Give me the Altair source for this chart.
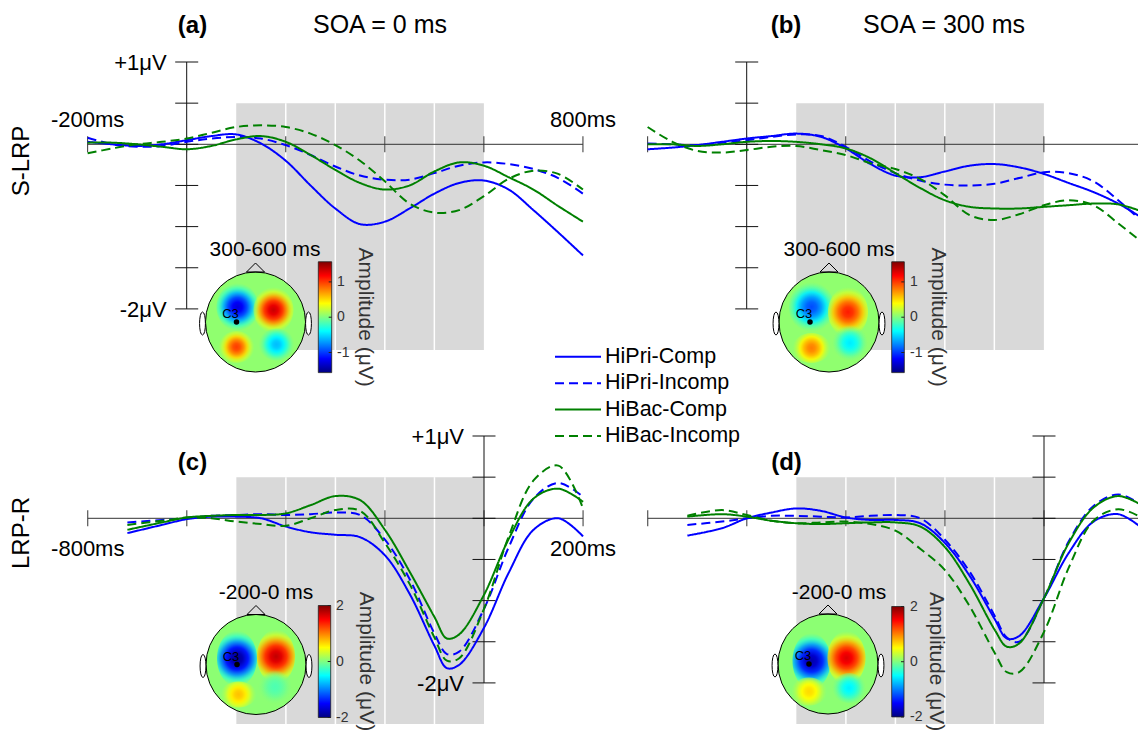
import altair as alt
import pandas as pd

W, H = 1138, 731
FONT = "Liberation Sans"
PX_MS = 0.4953   # pixels per ms
PX_UV = 82.3     # pixels per microvolt

SERIES = ["HiPri-Comp", "HiPri-Incomp", "HiBac-Comp", "HiBac-Incomp"]
SERIES_COLORS = ["#0000ff", "#0000ff", "#008000", "#008000"]
SERIES_DASH = [[1, 0], [9, 5], [1, 0], [9, 5]]

# ---------------- S-LRP (stimulus locked), time in ms, amplitude in microvolts
t_slrp = [-200, -150, -100, -50, 0, 50, 100, 150, 200, 250, 300, 350, 400, 450, 500, 550, 600, 650, 700, 750, 800]
a_hipri_comp = [0.03, 0.0, -0.02, 0.0, 0.05, 0.10, 0.12, 0.01, -0.20, -0.50, -0.78, -0.97, -0.94, -0.78, -0.60, -0.47, -0.44, -0.55, -0.80, -1.07, -1.35]
a_hipri_incomp = [0.08, 0.0, -0.03, -0.02, 0.03, 0.07, 0.09, 0.07, -0.01, -0.13, -0.27, -0.38, -0.43, -0.43, -0.35, -0.26, -0.22, -0.24, -0.30, -0.41, -0.60]
a_hibac_comp = [0.02, 0.02, 0.0, -0.03, -0.06, -0.02, 0.06, 0.10, 0.03, -0.13, -0.31, -0.47, -0.55, -0.50, -0.33, -0.22, -0.26, -0.40, -0.55, -0.75, -0.94]
a_hibac_incomp = [-0.11, -0.05, 0.0, 0.03, 0.07, 0.14, 0.21, 0.23, 0.21, 0.13, -0.01, -0.20, -0.45, -0.72, -0.83, -0.80, -0.63, -0.42, -0.32, -0.36, -0.55]

b_hipri_comp = [-0.06, -0.04, -0.01, 0.03, 0.07, 0.10, 0.13, 0.09, -0.05, -0.24, -0.38, -0.40, -0.33, -0.26, -0.24, -0.28, -0.36, -0.47, -0.58, -0.72, -0.90]
b_hipri_incomp = [0.01, 0.0, -0.01, 0.02, 0.05, 0.09, 0.12, 0.10, -0.03, -0.21, -0.35, -0.44, -0.49, -0.50, -0.48, -0.41, -0.34, -0.35, -0.45, -0.68, -0.95]
b_hibac_comp = [0.0, 0.0, -0.02, 0.0, 0.03, 0.04, 0.03, 0.0, -0.05, -0.17, -0.35, -0.53, -0.68, -0.76, -0.78, -0.78, -0.76, -0.74, -0.72, -0.73, -0.82]
b_hibac_incomp = [0.21, 0.03, -0.08, -0.10, -0.07, -0.03, -0.02, -0.07, -0.13, -0.23, -0.30, -0.42, -0.62, -0.86, -0.92, -0.85, -0.74, -0.68, -0.74, -0.96, -1.20]

# ---------------- LRP-R (response locked)
t_lrpr = [-720, -650, -600, -550, -500, -450, -400, -350, -300, -250, -200, -150, -100, -75, -50, 0, 50, 100, 150, 200]
c_hipri_comp = [-0.18, -0.08, -0.01, 0.02, 0.02, 0.0, -0.10, -0.17, -0.20, -0.23, -0.45, -0.92, -1.55, -1.82, -1.78, -1.33, -0.66, -0.14, 0.0, -0.22]
c_hipri_incomp = [-0.05, -0.02, 0.0, 0.03, 0.04, 0.05, 0.04, 0.05, 0.07, 0.04, -0.26, -0.74, -1.40, -1.65, -1.62, -1.10, -0.35, 0.24, 0.43, 0.26]
c_hibac_comp = [-0.14, -0.05, 0.01, 0.03, 0.04, 0.04, 0.06, 0.16, 0.27, 0.22, -0.14, -0.65, -1.20, -1.46, -1.41, -0.93, -0.25, 0.24, 0.36, 0.20]
c_hibac_incomp = [-0.08, -0.03, 0.01, 0.0, -0.04, -0.07, -0.09, 0.0, 0.10, 0.09, -0.30, -0.80, -1.45, -1.73, -1.70, -1.10, -0.22, 0.46, 0.64, 0.12]

d_hipri_comp = [-0.21, -0.12, 0.0, 0.07, 0.12, 0.09, 0.01, -0.02, -0.02, -0.06, -0.30, -0.70, -1.22, -1.46, -1.43, -0.97, -0.42, -0.04, 0.05, -0.13]
d_hipri_incomp = [-0.08, -0.04, 0.0, 0.03, 0.03, 0.02, 0.01, 0.03, 0.04, 0.0, -0.26, -0.65, -1.18, -1.45, -1.50, -0.97, -0.28, 0.15, 0.29, 0.15]
d_hibac_comp = [0.02, 0.05, 0.02, -0.03, -0.06, -0.07, -0.06, -0.05, -0.05, -0.10, -0.35, -0.80, -1.35, -1.56, -1.52, -0.97, -0.30, 0.13, 0.27, 0.15]
d_hibac_incomp = [0.03, 0.10, 0.04, -0.03, -0.06, -0.05, -0.04, -0.07, -0.15, -0.37, -0.63, -1.07, -1.63, -1.87, -1.87, -1.38, -0.60, -0.03, 0.11, 0.0]

# ---------------- axes / windows
slrp_xticks = [-200, 0, 200, 400, 600, 800]
lrpr_xticks = [-800, -600, -400, -200, 0, 200]
uv_ticks = [1, 0.5, 0, -0.5, -1, -1.5, -2]
slrp_window = [100, 600]
lrpr_window = [-500, 0]
slrp_separators = [200, 300, 400, 500]
lrpr_separators = [-400, -300, -200, -100]
window_uv = [0.5, -2.5]

# ---------------- topographies: (x, y in head radii, amplitude uV, radius x, radius y)
topo_a = [(-0.36, 0.30, -1.35, 0.42, 0.48), (0.36, 0.24, 1.30, 0.40, 0.46),
          (-0.38, -0.50, 0.95, 0.36, 0.32), (0.42, -0.45, -0.65, 0.36, 0.32)]
topo_b = [(-0.35, 0.30, -1.00, 0.45, 0.50), (0.38, 0.20, 1.05, 0.40, 0.50),
          (-0.35, -0.52, 0.75, 0.38, 0.30), (0.42, -0.42, -0.50, 0.36, 0.36)]
topo_c = [(-0.38, 0.12, -2.00, 0.40, 0.56), (0.40, 0.16, 1.70, 0.38, 0.54),
          (-0.35, -0.60, 0.70, 0.36, 0.26), (0.38, -0.45, -0.25, 0.34, 0.34)]
topo_d = [(-0.33, 0.06, -1.90, 0.38, 0.56), (0.37, 0.12, 1.60, 0.38, 0.54),
          (-0.38, -0.55, 0.60, 0.36, 0.28), (0.42, -0.48, -0.60, 0.34, 0.30)]
c3_position = (-0.38, 0.0)
cbar_ticks_ab = [1, 0, -1]
cbar_ticks_cd = [2, 0, -2]


def jet_rgb(f):
    f = min(max(f, 0.0), 1.0)
    c = lambda x: min(max(x, 0.0), 1.0)
    return (round(255 * c(1.5 - abs(4 * f - 3))), round(255 * c(1.5 - abs(4 * f - 2))),
            round(255 * c(1.5 - abs(4 * f - 1))))


def jet_css(v, m, a=1.0):
    r, g, b = jet_rgb((v + m) / (2 * m))
    return f"rgba({r},{g},{b},{a})"


PROFILE = [(0.0, 1.0, 1.0), (0.2, 0.92, 1.0), (0.4, 0.73, 1.0), (0.6, 0.49, 0.9), (0.8, 0.28, 0.5), (1.0, 0.14, 0.0)]


def blob_fill(amp, m, b0):
    return {"gradient": "radial", "x1": 0.5, "y1": 0.5, "r1": 0, "x2": 0.5, "y2": 0.5, "r2": 0.5,
            "stops": [{"offset": o, "color": jet_css(b0 + amp * k, m, a)} for o, k, a in PROFILE]}


JET_BAR = {"gradient": "linear", "x1": 0, "y1": 0, "x2": 0, "y2": 1,
           "stops": [{"offset": o, "color": "rgb(%d,%d,%d)" % jet_rgb(1 - o)}
                     for o in [0, 0.125, 0.25, 0.375, 0.5, 0.625, 0.75, 0.875, 1]]}

color_scale = alt.Scale(domain=SERIES, range=SERIES_COLORS)
dash_scale = alt.Scale(domain=SERIES, range=SERIES_DASH)
one = pd.DataFrame({"k": [0]})
AXC = "#333333"


def label(text, x, y, size=21, bold=False, angle=0, align="center", baseline="alphabetic", color="black"):
    return alt.Chart(one).mark_text(text=text, font=FONT, fontSize=size, fontWeight="bold" if bold else "normal",
                                    angle=angle, align=align, baseline=baseline, color=color).encode(
        x=alt.value(x), y=alt.value(y))


def panel(x0, y0, t, curves, t_axis, xticks, window, seps, xlabels, ylabels, xlabel_dy):
    xs = alt.Scale(domain=[-x0 / PX_MS, (W - x0) / PX_MS], nice=False, zero=False)
    ys = alt.Scale(domain=[(y0 - H) / PX_UV, y0 / PX_UV], nice=False, zero=False)
    X = lambda f: alt.X(f, type="quantitative", scale=xs, axis=None)
    Y = lambda f: alt.Y(f, type="quantitative", scale=ys, axis=None)
    out = []
    shade = pd.DataFrame({"t1": [window[0]], "t2": [window[1]], "v1": [window_uv[0]], "v2": [window_uv[1]]})
    out.append(alt.Chart(shade).mark_rect(color="#d9d9d9").encode(x=X("t1"), x2="t2", y=Y("v1"), y2="v2"))
    sep = pd.DataFrame({"t": seps, "v1": [window_uv[0]] * len(seps), "v2": [window_uv[1]] * len(seps)})
    out.append(alt.Chart(sep).mark_rule(color="white", strokeWidth=1.5).encode(x=X("t"), y=Y("v1"), y2="v2"))
    xa = pd.DataFrame({"t1": [t_axis[0]], "t2": [t_axis[1]], "v": [0]})
    out.append(alt.Chart(xa).mark_rule(color=AXC, strokeWidth=1).encode(x=X("t1"), x2="t2", y=Y("v")))
    ya = pd.DataFrame({"t": [0], "v1": [uv_ticks[0]], "v2": [uv_ticks[-1]]})
    out.append(alt.Chart(ya).mark_rule(color="#111", strokeWidth=1).encode(x=X("t"), y=Y("v1"), y2="v2"))
    xt = pd.DataFrame({"t": xticks, "v": [0] * len(xticks)})
    out.append(alt.Chart(xt).mark_tick(orient="vertical", size=16, thickness=1, color=AXC, opacity=1).encode(
        x=X("t"), y=Y("v")))
    yt = pd.DataFrame({"t": [0] * len(uv_ticks), "v": uv_ticks})
    out.append(alt.Chart(yt).mark_tick(orient="horizontal", size=23, thickness=1, color="#111", opacity=1).encode(
        x=X("t"), y=Y("v")))
    rows = []
    for s, vals in zip(SERIES, curves):
        for tt, v in zip(t, vals):
            rows.append({"t": tt, "v": v, "series": s})
    out.append(alt.Chart(pd.DataFrame(rows)).mark_line(strokeWidth=2, interpolate="catmull-rom").encode(
        x=X("t"), y=Y("v"),
        color=alt.Color("series:N", scale=color_scale, legend=None),
        strokeDash=alt.StrokeDash("series:N", scale=dash_scale, legend=None)))
    if xlabels:
        xl = pd.DataFrame({"t": [p[0] for p in xlabels], "v": [0] * len(xlabels), "txt": [p[1] for p in xlabels]})
        out.append(alt.Chart(xl).mark_text(font=FONT, fontSize=22, align="center", baseline="alphabetic",
                                           dy=xlabel_dy).encode(x=X("t"), y=Y("v"), text="txt"))
    if ylabels:
        yl = pd.DataFrame({"t": [0] * len(ylabels), "v": [p[0] for p in ylabels], "txt": [p[1] for p in ylabels]})
        out.append(alt.Chart(yl).mark_text(font=FONT, fontSize=22, align="right", baseline="alphabetic",
                                           dx=-20, dy=8).encode(x=X("t"), y=Y("v"), text="txt"))
    return out


def topo(cx, cy, R, m, b0, blobs):
    xs = alt.Scale(domain=[-cx / R, (W - cx) / R], nice=False, zero=False)
    ys = alt.Scale(domain=[(cy - H) / R, cy / R], nice=False, zero=False)
    X = lambda f: alt.X(f, type="quantitative", scale=xs, axis=None)
    Y = lambda f: alt.Y(f, type="quantitative", scale=ys, axis=None)
    out = []
    center = pd.DataFrame({"u": [0.0], "w": [0.0]})
    d = (2 * R) ** 2
    out.append(alt.Chart(center).mark_point(shape="circle", size=d, filled=True, fill=jet_css(b0, m),
                                            opacity=1, strokeWidth=0).encode(x=X("u"), y=Y("w")))
    for (u, w, amp, rx, ry) in blobs:
        k = rx / ry
        path = f"M {-k},0 A {k},1 0 1,1 {k},0 A {k},1 0 1,1 {-k},0 Z"
        bd = pd.DataFrame({"u": [u], "w": [w]})
        out.append(alt.Chart(bd).mark_point(shape=path, size=(2 * ry * R) ** 2, filled=True,
                                            fill=blob_fill(amp, m, b0), opacity=1, strokeWidth=0).encode(
            x=X("u"), y=Y("w")))
    out.append(alt.Chart(center).mark_point(shape="circle", size=d, filled=False, stroke="black",
                                            strokeWidth=1, opacity=1).encode(x=X("u"), y=Y("w")))
    nose = pd.DataFrame({"u": [0.0], "w": [1.09]})
    out.append(alt.Chart(nose).mark_point(shape="M -1,0.5 L 0,-0.5 L 1,0.5 Z", size=324, filled=False,
                                          stroke="black", strokeWidth=1, opacity=1).encode(x=X("u"), y=Y("w")))
    ears = pd.DataFrame({"u": [-1.06, 1.06], "w": [-0.03, -0.03]})
    out.append(alt.Chart(ears).mark_point(shape="M 0,-1 C 0.34,-1 0.34,1 0,1 C -0.34,1 -0.34,-1 0,-1 Z",
                                          size=529, filled=True, fill="white", stroke="black", strokeWidth=1,
                                          opacity=1).encode(x=X("u"), y=Y("w")))
    c3 = pd.DataFrame({"u": [c3_position[0]], "w": [c3_position[1]]})
    out.append(alt.Chart(c3).mark_point(shape="circle", size=30, filled=True, color="black", opacity=1).encode(
        x=X("u"), y=Y("w")))
    out.append(alt.Chart(c3).mark_text(text="C3", font=FONT, fontSize=13, dx=-6, dy=-8).encode(
        x=X("u"), y=Y("w")))
    return out


def colorbar(x1, x2, c0, k, m, ticks, label_x, amp_x):
    ys = alt.Scale(domain=[(c0 - H) / k, c0 / k], nice=False, zero=False)
    Y = lambda f: alt.Y(f, type="quantitative", scale=ys, axis=None)
    out = []
    bar = pd.DataFrame({"v1": [-m], "v2": [m]})
    out.append(alt.Chart(bar).mark_rect(fill=JET_BAR, stroke="#222", strokeWidth=0.8).encode(
        x=alt.value(x1), x2=alt.value(x2), y=Y("v1"), y2="v2"))
    tk = pd.DataFrame({"v": ticks, "txt": [str(t) for t in ticks]})
    out.append(alt.Chart(tk).mark_tick(orient="horizontal", size=3, thickness=1, color="#222", opacity=1).encode(
        x=alt.value(x2 - 1.5), y=Y("v")))
    out.append(alt.Chart(tk).mark_text(font=FONT, fontSize=14, align="left", baseline="middle", color="#333").encode(
        x=alt.value(label_x), y=Y("v"), text="txt"))
    zero = pd.DataFrame({"v": [0]})
    out.append(alt.Chart(zero).mark_text(text="Amplitude (μV)", font=FONT, fontSize=21, angle=90, align="center",
                                         baseline="middle", color="#333").encode(x=alt.value(amp_x), y=Y("v")))
    return out


layers = []
# panel (a)
layers += panel(186.7, 144.3, t_slrp, [a_hipri_comp, a_hipri_incomp, a_hibac_comp, a_hibac_incomp],
                [-200, 800], slrp_xticks, slrp_window, slrp_separators,
                [(-200, "-200ms"), (800, "800ms")], [(1, "+1μV"), (-2, "-2μV")], -17)
# panel (b)
layers += panel(746.7, 144.3, t_slrp, [b_hipri_comp, b_hipri_incomp, b_hibac_comp, b_hibac_incomp],
                [-200, 850], slrp_xticks, slrp_window, slrp_separators, [], [], 0)
# panel (c)
layers += panel(484.0, 518.3, t_lrpr, [c_hipri_comp, c_hipri_incomp, c_hibac_comp, c_hibac_incomp],
                [-800, 200], lrpr_xticks, lrpr_window, lrpr_separators,
                [(-800, "-800ms"), (200, "200ms")], [(1, "+1μV"), (-2, "-2μV")], 38)
# panel (d)
layers += panel(1044.0, 518.3, t_lrpr, [d_hipri_comp, d_hipri_incomp, d_hibac_comp, d_hibac_incomp],
                [-800, 200], lrpr_xticks, lrpr_window, lrpr_separators, [], [], 0)

# topographies and colour bars
layers += topo(255.5, 322, 50, 1.57, 0.05, topo_a)
layers += colorbar(318.3, 331.7, 317.2, 35.3, 1.57, cbar_ticks_ab, 337, 365)
layers += topo(829, 322, 50, 1.57, 0.05, topo_b)
layers += colorbar(891.7, 904.3, 317.2, 35.3, 1.57, cbar_ticks_ab, 910, 938)
layers += topo(256, 664.5, 50, 2.0, 0.05, topo_c)
layers += colorbar(318.3, 330.7, 661.5, 28.0, 2.0, cbar_ticks_cd, 336, 366)
layers += topo(828, 664, 50, 2.0, 0.05, topo_d)
layers += colorbar(891.7, 904.0, 661.7, 27.6, 2.0, cbar_ticks_cd, 910, 936)

# titles
layers += [
    label("(a)", 192.5, 32.5, size=24, bold=True),
    label("SOA = 0 ms", 380, 32.5, size=25),
    label("(b)", 786, 32.5, size=24, bold=True),
    label("SOA = 300 ms", 944, 32.5, size=25),
    label("(c)", 192.5, 470, size=24, bold=True),
    label("(d)", 786.5, 470, size=24, bold=True),
    label("S-LRP", 22, 161, size=24, angle=270, baseline="middle"),
    label("LRP-R", 22, 533, size=24, angle=270, baseline="middle"),
    label("300-600 ms", 265, 255.5),
    label("300-600 ms", 839, 255.5),
    label("-200-0 ms", 266, 598.5),
    label("-200-0 ms", 839, 598.5),
]

# legend
leg = pd.DataFrame({"series": SERIES})
leg_y = alt.Y("series:N", scale=alt.Scale(type="point", domain=SERIES, range=[356.7, 436.0], padding=0), axis=None)
layers.append(alt.Chart(leg).mark_rule(strokeWidth=2).encode(
    x=alt.value(555), x2=alt.value(601), y=leg_y,
    color=alt.Color("series:N", scale=color_scale, legend=None),
    strokeDash=alt.StrokeDash("series:N", scale=dash_scale, legend=None)))
layers.append(alt.Chart(leg).mark_text(font=FONT, fontSize=21.5, align="left", baseline="middle").encode(
    x=alt.value(605), y=leg_y, text="series:N"))

chart = alt.layer(*layers).resolve_scale(x="independent", y="independent").properties(
    width=W, height=H, padding=0, autosize=alt.AutoSizeParams(type="none"), background="white"
).configure_view(stroke=None)

chart.save("out.html", embed_options={"renderer": "svg", "actions": False})
